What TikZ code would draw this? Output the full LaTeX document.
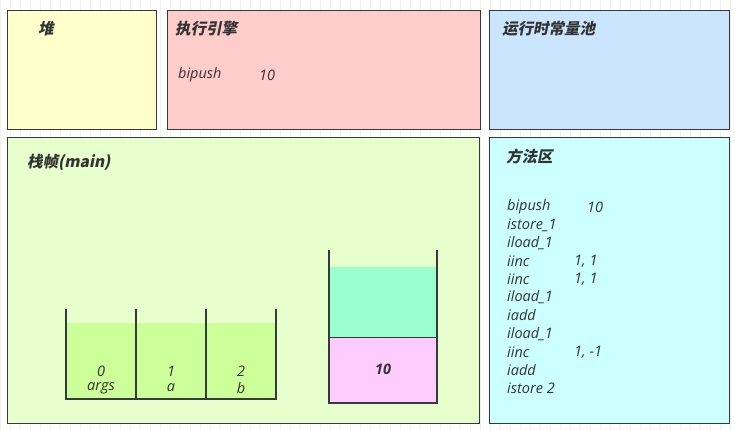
\documentclass[tikz,border=0pt]{standalone}
\usepackage{fontspec}
\setmainfont{Open Sans}
\newfontfamily\cjk[FakeSlant=0.2,BoldFeatures={FakeSlant=0.2}]{Noto Sans CJK SC}
\usetikzlibrary{positioning}
\definecolor{edgec}{HTML}{36393D}
\definecolor{textc}{HTML}{333333}
\definecolor{heapc}{HTML}{FFFFCC}
\definecolor{enginec}{HTML}{FFCCCC}
\definecolor{poolc}{HTML}{CCE5FF}
\definecolor{framec}{HTML}{E6FFCC}
\definecolor{methodc}{HTML}{CCFFFF}
\definecolor{slotc}{HTML}{CCFF99}
\definecolor{freec}{HTML}{99FFCC}
\definecolor{topc}{HTML}{FFCCFF}
\tikzset{
  area/.style={draw=edgec, line width=1pt, fill=#1, anchor=north west, inner sep=0pt},
  title/.style={anchor=west, inner sep=0pt, text=textc, font=\cjk\bfseries\fontsize{15.5}{18}\selectfont},
  code/.style={anchor=west, inner sep=0pt, text=textc, font=\itshape\fontsize{14.5}{17}\selectfont},
  cell/.style={inner sep=0pt, text=textc, font=\itshape\fontsize{14.5}{17}\selectfont},
  wall/.style={draw=edgec, line width=2pt}
}

\begin{document}
\begin{tikzpicture}[x=1pt,y=-1pt]
\useasboundingbox (0,0) rectangle (735,430);
\draw[black!6, step=10] (0,0) grid (735,430);
% upper row
\node[area=heapc, minimum width=149pt, minimum height=119pt] (heap) at (7,10) {};
\node[area=enginec, minimum width=313pt, minimum height=119pt] (engine) at (167,10) {};
\node[area=poolc, minimum width=240pt, minimum height=119pt] (pool) at (489,10) {};
\node[title] (heapt) at (38,29) {堆};
\node[title] (enginet) at (175,29) {执行引擎};
\node[title] (poolt) at (502,29) {运行时常量池};
\node[code] (eop) at (178,75) {bipush};
\node[code] (earg) at (259,75) {10};
%
% lower row
\node[area=framec, minimum width=472pt, minimum height=286pt] (frame) at (7,137) {};
\node[area=methodc, minimum width=240pt, minimum height=286pt] (method) at (489,137) {};
\node[title] (framet) at (27,162) {栈帧(main)};
\node[title] (methodt) at (506,157) {方法区};
%
\node[code] (m0) at (507,207) {bipush};
\node[code] (m0a) at (587,207) {10};
\node[code] (m1) at (507,225) {istore\_1};
\node[code] (m2) at (507,243) {iload\_1};
\node[code] (m3) at (507,261) {iinc};
\node[code] (m3a) at (574,261) {1, 1};
\node[code] (m4) at (507,279) {iinc};
\node[code] (m4a) at (574,279) {1, 1};
\node[code] (m5) at (507,297) {iload\_1};
\node[code] (m6) at (507,315) {iadd};
\node[code] (m7) at (507,334) {iload\_1};
\node[code] (m8) at (507,352) {iinc};
\node[code] (m8a) at (574,352) {1, -1};
\node[code] (m9) at (507,370) {iadd};
\node[code] (m10) at (507,388) {istore 2};
%
% local variables
\fill[slotc] (66,323) rectangle (276,399);
\draw[wall] (66,309) -- (66,399) -- (276,399) -- (276,309);
\draw[wall] (136,309) -- (136,399);
\draw[wall] (206,309) -- (206,399);
\node[cell] (s0) at (101,371) {0};
\node[cell] (v0) at (101,388) {args};
\node[cell] (s1) at (171,371) {1};
\node[cell] (v1) at (171,388) {a};
\node[cell] (s2) at (241,371) {2};
\node[cell] (v2) at (241,388) {b};
%
% operand stack
\fill[freec] (329,267) rectangle (437,337);
\fill[topc] (329,337) rectangle (437,403);
\draw[edgec, line width=1pt] (329,337) -- (437,337);
\draw[wall] (329,250) -- (329,403) -- (437,403) -- (437,250);
\node[cell, font=\bfseries\itshape\fontsize{14.5}{17}\selectfont] (top) at (383,369) {10};
\end{tikzpicture}
\end{document}
